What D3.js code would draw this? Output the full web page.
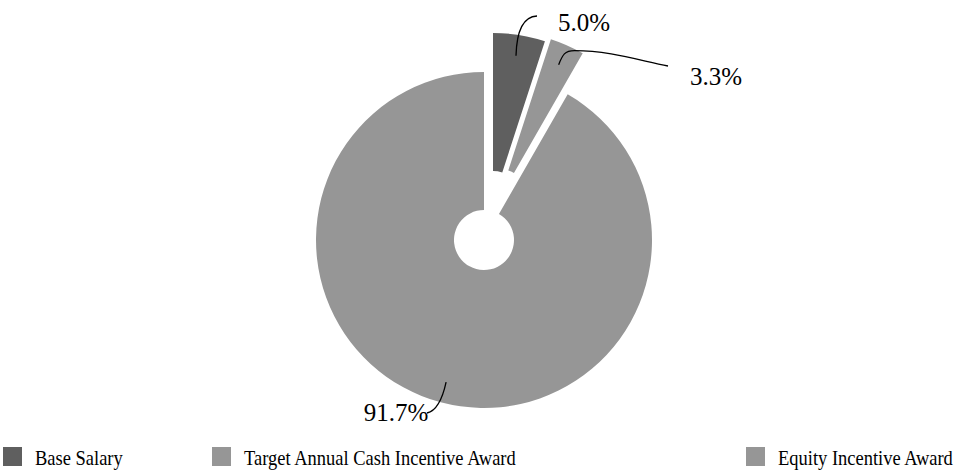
<!DOCTYPE html>
<html>
<head>
<meta charset="utf-8">
<script src="https://cdn.jsdelivr.net/npm/d3@7"></script>
<style>
  html, body { margin: 0; padding: 0; background: #fff; }
  svg { display: block; }
</style>
</head>
<body>
<svg id="chart" width="964" height="476"></svg>
<script>
// ---- data ----
const categories = ["Base Salary", "Target Annual Cash Incentive Award", "Equity Incentive Award"];
const values = [5.0, 3.3, 91.7];
const valueLabels = ["5.0%", "3.3%", "91.7%"];
const colors = ["#5f5f5f", "#969696", "#969696"];

// ---- layout ----
const FONT = '"Liberation Serif"';
const cx = 484, cy = 240;
const outerR = 168, innerR = 30;
const explodeOffsets = [[9, -39], [15, -41], [0, 0]];
const leaderR = 147;
const labelLayout = [
  { end: [537, 16], ctrl: [517, 17], text: [584, 31] },
  { end: [668, 66], ctrl: null, text: [716, 85] },
  { end: [427, 413], ctrl: [440, 410], text: [396, 421] }
];
const legendSwatchX = [3, 212, 746];
const legendGap = 32;
const legendCondense = 0.88;

const svg = d3.select("#chart");

const pie = d3.pie().sort(null).value(d => d)
  .startAngle(0).endAngle(2 * Math.PI);
const arcs = pie(values);
const arc = d3.arc().innerRadius(innerR).outerRadius(outerR);

const g = svg.append("g").attr("transform", `translate(${cx},${cy})`);

g.selectAll("path.slice")
  .data(arcs)
  .join("path")
  .attr("class", "slice")
  .attr("d", arc)
  .attr("fill", (d, i) => colors[i])
  .attr("transform", (d, i) => `translate(${explodeOffsets[i][0]},${explodeOffsets[i][1]})`);

arcs.forEach((d, i) => {
  const mid = (d.startAngle + d.endAngle) / 2;
  const sx = cx + explodeOffsets[i][0] + leaderR * Math.sin(mid);
  const sy = cy + explodeOffsets[i][1] - leaderR * Math.cos(mid);
  const L = labelLayout[i];
  let p;
  if (i === 1) {
    p = `M${sx},${sy} C${sx + 4},${sy - 10} ${sx + 6},${sy - 14} ${sx + 16},${sy - 14} C${sx + 50},${sy - 14} ${L.end[0] - 30},${L.end[1] - 6} ${L.end[0]},${L.end[1]}`;
  } else {
    p = `M${sx},${sy} Q${L.ctrl[0]},${L.ctrl[1]} ${L.end[0]},${L.end[1]}`;
  }
  svg.append("path").attr("d", p)
    .attr("fill", "none").attr("stroke", "#000").attr("stroke-width", 1.3);
  svg.append("text")
    .attr("x", L.text[0]).attr("y", L.text[1])
    .attr("text-anchor", "middle")
    .style("font-family", FONT)
    .style("font-size", "25px")
    .text(valueLabels[i]);
});

const lg = svg.append("g");
categories.forEach((c, i) => {
  lg.append("rect").attr("x", legendSwatchX[i]).attr("y", 447).attr("width", 19).attr("height", 19)
    .attr("fill", colors[i]);
  const t = lg.append("text").attr("x", legendSwatchX[i] + legendGap).attr("y", 465)
    .style("font-family", FONT)
    .style("font-size", "21px").text(c);
  const len = t.node().getComputedTextLength();
  t.attr("textLength", len * legendCondense).attr("lengthAdjust", "spacingAndGlyphs");
});
</script>
</body>
</html>
